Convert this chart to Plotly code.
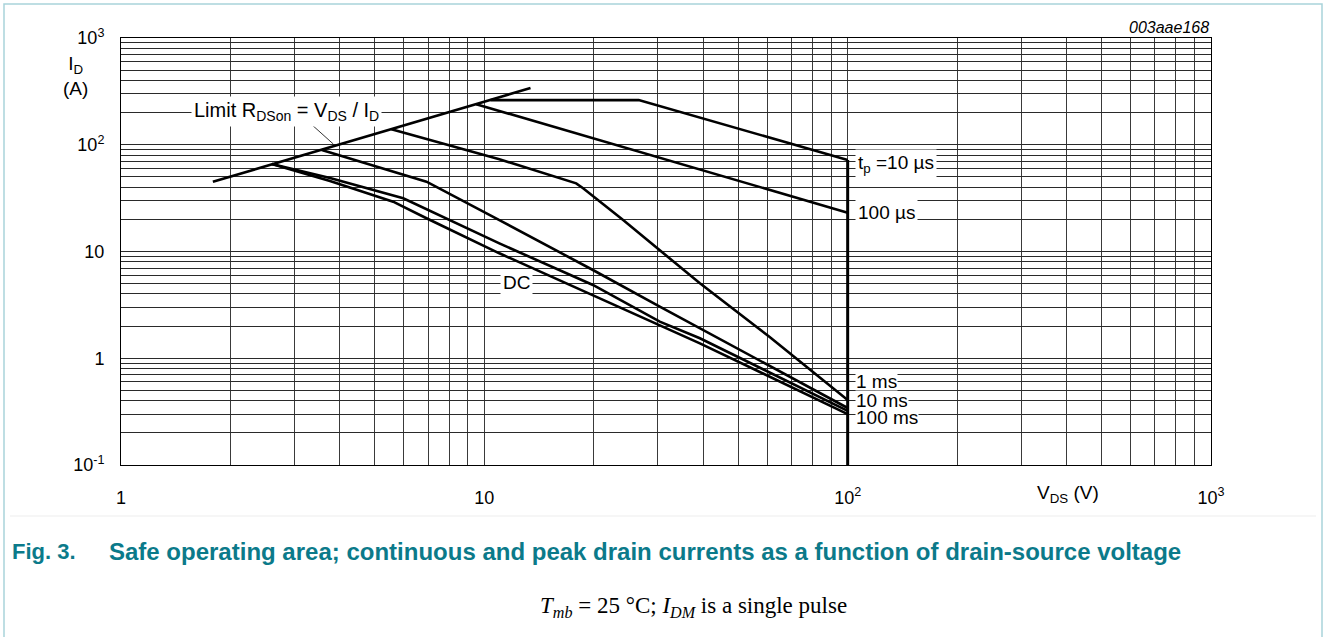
import numpy as np
import plotly.graph_objects as go

# ---- Safe operating area data (V_DS in volts, I_D in amperes) ----
limit_v = [1.79, 13.4]
limit_i = [45.0, 340.0]

tp10us_v = [10.4, 26.6, 100.0]
tp10us_i = [262.0, 262.0, 72.0]

tp100us_v = [9.5, 100.0]
tp100us_i = [240.0, 23.1]

tp1ms_v = [5.55, 11.0, 17.9, 18.7, 24.1, 30.4, 39.2, 61.0, 100.0]
tp1ms_i = [140.0, 73.1, 43.5, 39.1, 19.7, 10.3, 5.04, 1.58, 0.406]

tp10ms_v = [3.57, 6.93, 11.0, 19.9, 30.4, 39.2, 100.0]
tp10ms_i = [89.3, 45.1, 19.7, 6.71, 3.04, 1.91, 0.342]

tp100ms_v = [2.6, 3.76, 5.98, 11.0, 19.9, 30.4, 39.2, 100.0]
tp100ms_i = [66.0, 48.8, 31.5, 11.9, 4.86, 2.20, 1.54, 0.321]

dc_v = [2.6, 3.76, 5.61, 6.93, 11.0, 19.9, 30.4, 39.2, 100.0]
dc_i = [66.0, 45.8, 29.3, 20.5, 9.62, 3.91, 2.05, 1.38, 0.30]

bvdss_v = [100.0, 100.0]
bvdss_i = [0.1, 72.0]

leader_v = [3.31, 3.84]
leader_i = [160.0, 101.6]

# ---- axis ticks: gridlines at every 1..9 multiple, labels on decades ----
x_decades = [1, 10, 100, 1000]
x_decade_text = ["1", "10", "10<sup>2</sup>", "10<sup>3</sup>"]
y_decades = [0.1, 1, 10, 100, 1000]
y_decade_text = ["10<sup>-1</sup>", "1", "10", "10<sup>2</sup>", "10<sup>3</sup>"]


def log_ticks(decades, texts):
    vals, labels = [], []
    for k, d in enumerate(decades):
        if k < len(decades) - 1:
            for m in range(1, 10):
                vals.append(d * m)
                labels.append(texts[k] if m == 1 else "")
        else:
            vals.append(d)
            labels.append(texts[k])
    return vals, labels


xt_vals, xt_text = log_ticks(x_decades, x_decade_text)
yt_vals, yt_text = log_ticks(y_decades, y_decade_text)

FONT = "Arial, Liberation Sans, sans-serif"
LW = 2.6

fig = go.Figure()
curves = [
    (limit_v, limit_i, LW),
    (tp10us_v, tp10us_i, LW),
    (tp100us_v, tp100us_i, LW),
    (tp1ms_v, tp1ms_i, LW),
    (tp10ms_v, tp10ms_i, LW),
    (tp100ms_v, tp100ms_i, LW),
    (dc_v, dc_i, LW),
    (bvdss_v, bvdss_i, 3.0),
    (leader_v, leader_i, 0.8),
]
for xv, yv, w in curves:
    fig.add_trace(go.Scatter(x=xv, y=yv, mode="lines",
                             line=dict(color="black", width=w),
                             hoverinfo="skip", showlegend=False))

lx = np.log10
annotations = [
    dict(x=lx(2.86), y=lx(202.7), xref="x", yref="y",
         text="Limit R<sub>DSon</sub> = V<sub>DS</sub> / I<sub>D</sub>",
         xanchor="center", yanchor="middle", font=dict(size=20), borderpad=2),
    dict(x=lx(104.5), y=lx(66.0), xref="x", yref="y",
         text="t<sub>p</sub> =10 µs", xanchor="left", yanchor="middle",
         font=dict(size=19), borderpad=2),
    dict(x=lx(105.0), y=lx(23.4), xref="x", yref="y",
         text="100 µs", xanchor="left", yanchor="middle",
         font=dict(size=19), borderpad=2),
    dict(x=lx(105.0), y=lx(0.612), xref="x", yref="y",
         text="1 ms", xanchor="left", yanchor="middle",
         font=dict(size=19), borderpad=0, height=17),
    dict(x=lx(105.0), y=lx(0.406), xref="x", yref="y",
         text="10 ms", xanchor="left", yanchor="middle",
         font=dict(size=19), borderpad=0, height=17),
    dict(x=lx(105.0), y=lx(0.280), xref="x", yref="y",
         text="100 ms", xanchor="left", yanchor="middle",
         font=dict(size=19), borderpad=0, height=17),
    dict(x=lx(12.29), y=lx(5.18), xref="x", yref="y",
         text="DC", xanchor="center", yanchor="middle",
         font=dict(size=19), borderpad=2),
]
for a in annotations:
    a.update(showarrow=False, bgcolor="white")

W, H = 1326, 637
L, R, T, B = 121, 115, 38, 172
pw, ph = W - L - R, H - T - B


def px(xp):
    return (xp - L) / pw


def py(yp):
    return (H - B - yp) / ph


annotations += [
    dict(x=px(75), y=py(76), xref="paper", yref="paper",
         text="I<sub>D</sub><br>(A)", showarrow=False, font=dict(size=19),
         xanchor="center", yanchor="middle", align="center"),
    dict(x=px(1068), y=py(494), xref="paper", yref="paper",
         text="V<sub>DS</sub> (V)", showarrow=False, font=dict(size=19),
         xanchor="center", yanchor="middle"),
    dict(x=px(1211), y=py(28), xref="paper", yref="paper",
         text="<i>003aae168</i>", showarrow=False, font=dict(size=16),
         xanchor="right", yanchor="middle"),
    dict(x=px(10), y=py(551), xref="paper", yref="paper",
         text="<b>Fig. 3.</b>", showarrow=False,
         font=dict(size=22, color="#0b7a8a"), xanchor="left", yanchor="middle"),
    dict(x=px(107), y=py(551), xref="paper", yref="paper",
         text="<b>Safe operating area; continuous and peak drain currents as a "
              "function of drain-source voltage</b>",
         showarrow=False, font=dict(size=24, color="#0b7a8a"),
         xanchor="left", yanchor="middle"),
    dict(x=px(693), y=py(607), xref="paper", yref="paper",
         text="<i>T</i><sub><i>mb</i></sub> = 25 °C; <i>I</i><sub><i>DM</i></sub>"
              " is a single pulse",
         showarrow=False,
         font=dict(size=23, family="Times New Roman, Liberation Serif, serif"),
         xanchor="center", yanchor="middle"),
]

shapes = [
    dict(type="rect", xref="paper", yref="paper",
         x0=px(4), x1=px(1322), y0=py(700), y1=py(4),
         line=dict(color="#a9d3da", width=1.5), layer="below"),
    dict(type="line", xref="paper", yref="paper",
         x0=px(10), x1=px(1316), y0=py(516), y1=py(516),
         line=dict(color="#ededed", width=1)),
]

fig.update_layout(
    width=W, height=H, autosize=False,
    margin=dict(l=L, r=R, t=T, b=B, pad=0),
    paper_bgcolor="white", plot_bgcolor="white",
    font=dict(family=FONT, size=18, color="black"),
    annotations=annotations, shapes=shapes,
    showlegend=False,
)
fig.update_xaxes(type="log", range=[0, 3], tickmode="array",
                 tickvals=xt_vals, ticktext=xt_text, ticks="",
                 showgrid=True, gridcolor="#3a3a3a", gridwidth=1,
                 showline=True, linecolor="black", linewidth=1, mirror=True,
                 zeroline=False, ticklabelstandoff=16,
                 tickfont=dict(size=18))
fig.update_yaxes(type="log", range=[-1, 3], tickmode="array",
                 tickvals=yt_vals, ticktext=yt_text, ticks="",
                 showgrid=True, gridcolor="#2a2a2a", gridwidth=1,
                 showline=True, linecolor="black", linewidth=1, mirror=True,
                 zeroline=False, ticklabelstandoff=12,
                 tickfont=dict(size=18))

fig.write_html("out.html")
